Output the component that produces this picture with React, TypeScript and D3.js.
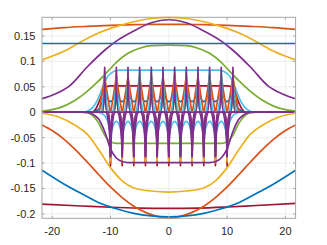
import React, { useEffect, useRef } from "react";
import * as d3 from "d3";

// axis limits and ticks
const xLimits = [-21.75, 21.75];
const yLimits = [-0.2087, 0.1868];
const xTicks = [-20, -10, 0, 10, 20];
const yTicks = [-0.2, -0.15, -0.1, -0.05, 0, 0.05, 0.1, 0.15];
const yTickLabels = ["-0.2", "-0.15", "-0.1", "-0.05", "0", "0.05", "0.1", "0.15"];

// smooth curves, [x, value]
const blueFlat = [[-21.75, 0.1352], [21.75, 0.1352]];
const orangeTop = [[-21.75, 0.163], [-18, 0.1665], [-14, 0.169], [-10, 0.171], [-6, 0.1723], [-3, 0.1728], [0, 0.173], [3, 0.1728], [6, 0.1723], [10, 0.171], [14, 0.169], [18, 0.1665], [21.75, 0.163]];
const yellowTop = [[-21.75, 0.103], [-18, 0.12], [-15.6, 0.135], [-13, 0.151], [-10, 0.165], [-8, 0.172], [-6, 0.178], [-3, 0.1845], [0, 0.1868], [3, 0.1845], [6, 0.178], [8, 0.172], [10, 0.165], [13, 0.151], [15.6, 0.135], [18, 0.12], [21.75, 0.103]];
const purpleTop = [[-21.75, 0.0266], [-19.5, 0.036], [-17, 0.052], [-14, 0.089], [-11, 0.122], [-9, 0.14], [-6, 0.16], [-3, 0.176], [0, 0.182], [3, 0.176], [6, 0.16], [9, 0.14], [11, 0.122], [14, 0.089], [17, 0.052], [19.5, 0.036], [21.75, 0.0266]];
const greenTop = [[-21.75, 0.002], [-20, 0.005], [-18, 0.012], [-16, 0.024], [-14, 0.041], [-12, 0.062], [-10, 0.086], [-9, 0.098], [-7, 0.116], [-5, 0.126], [-3, 0.131], [0, 0.1322], [3, 0.131], [5, 0.126], [7, 0.116], [9, 0.098], [10, 0.086], [12, 0.062], [14, 0.041], [16, 0.024], [18, 0.012], [20, 0.005], [21.75, 0.002]];
const cyanTop = [[-21.75, 0], [-15, 0], [-14, 0.002], [-13, 0.01], [-12.2, 0.025], [-11.3, 0.05], [-10.5, 0.07], [-9.5, 0.08], [-8.5, 0.083], [0, 0.083], [8.5, 0.083], [9.5, 0.08], [10.5, 0.07], [11.3, 0.05], [12.2, 0.025], [13, 0.01], [14, 0.002], [15, 0], [21.75, 0]];
const redTop = [[-21.75, 0], [-13.3, 0], [-12.5, 0.007], [-11.8, 0.025], [-11.3, 0.04], [-10.7, 0.05], [-10, 0.0518], [0, 0.0518], [10, 0.0518], [10.7, 0.05], [11.3, 0.04], [11.8, 0.025], [12.5, 0.007], [13.3, 0], [21.75, 0]];
const greenLow = [[-21.75, 0], [-15, 0], [-14, -0.001], [-13, -0.007], [-12, -0.022], [-11, -0.045], [-10, -0.058], [-9, -0.0613], [0, -0.0613], [9, -0.0613], [10, -0.058], [11, -0.045], [12, -0.022], [13, -0.007], [14, -0.001], [15, 0], [21.75, 0]];
const purpleLow = [[-21.75, 0], [-15, 0], [-14, -0.0005], [-13, -0.004], [-12, -0.014], [-11, -0.038], [-10, -0.072], [-9, -0.09], [-8, -0.097], [-7, -0.099], [0, -0.099], [7, -0.099], [8, -0.097], [9, -0.09], [10, -0.072], [11, -0.038], [12, -0.014], [13, -0.004], [14, -0.0005], [15, 0], [21.75, 0]];
const yellowLow = [[-21.75, -0.002], [-19, -0.009], [-16, -0.026], [-14, -0.043], [-12, -0.074], [-10, -0.109], [-8, -0.135], [-6, -0.149], [-3, -0.155], [0, -0.157], [3, -0.155], [6, -0.149], [8, -0.135], [10, -0.109], [12, -0.074], [14, -0.043], [16, -0.026], [19, -0.009], [21.75, -0.002]];
const orangeLow = [[-21.75, -0.025], [-20, -0.036], [-18, -0.053], [-16, -0.074], [-14, -0.098], [-12, -0.123], [-10, -0.147], [-8, -0.168], [-6, -0.185], [-4, -0.197], [-2, -0.205], [0, -0.2087], [2, -0.205], [4, -0.197], [6, -0.185], [8, -0.168], [10, -0.147], [12, -0.123], [14, -0.098], [16, -0.074], [18, -0.053], [20, -0.036], [21.75, -0.025]];
const blueLow = [[-21.75, -0.114], [-18, -0.141], [-15, -0.16], [-12, -0.178], [-9, -0.19], [-6, -0.199], [-3, -0.204], [0, -0.206], [3, -0.204], [6, -0.199], [9, -0.19], [12, -0.178], [15, -0.16], [18, -0.141], [21.75, -0.114]];
const redLow = [[-21.75, -0.181], [-15, -0.1845], [-10, -0.187], [-5, -0.1887], [0, -0.1893], [5, -0.1887], [10, -0.1865], [15, -0.1835], [21.75, -0.1795]];

// spiky part: wells (upward spikes) and barriers (downward spikes)
const wellCentres = [-11, -9, -7, -5, -3, -1, 1, 3, 5, 7, 9, 11];
const barrierCentres = [-10, -8, -6, -4, -2, 0, 2, 4, 6, 8, 10];
const upPeaks = { purple: 0.0885, green: 0.082, cyan: 0.076, orange: 0.07 };
const downPeaks = { red: -0.105, orange: -0.1, yellow: -0.096, purple: -0.088 };
const blueScallop = { high: 0.045, low: 0.021 };
const cyanArch = { low: -0.048, high: -0.018 };

const C = {
  blue: "#0072BD",
  orange: "#D95319",
  yellow: "#EDB120",
  purple: "#7E2F8E",
  green: "#77AC30",
  cyan: "#4DBEEE",
  red: "#A2142F",
};

const App = () => {
  const ref = useRef<SVGSVGElement>(null);

  useEffect(() => {
    const width = 327;
    const height = 245;
    const left = 42, right = 295.6, top = 17.3, bottom = 218.3;
    const lw = 1.7;

    const svg = d3.select(ref.current);
    svg.selectAll("*").remove();

    const x = d3.scaleLinear().domain(xLimits).range([left, right]);
    const y = d3.scaleLinear().domain(yLimits).range([bottom, top]);

    // grid
    const grid = svg.append("g").attr("stroke", "#e3e3e3").attr("stroke-width", 0.6);
    xTicks.forEach((t) => grid.append("line").attr("x1", x(t)).attr("x2", x(t)).attr("y1", top).attr("y2", bottom));
    yTicks.forEach((t) => grid.append("line").attr("x1", left).attr("x2", right).attr("y1", y(t)).attr("y2", y(t)));

    const plot = svg.append("g");
    plot.append("defs").append("clipPath").attr("id", "clip")
      .append("rect").attr("x", left).attr("y", top - 1).attr("width", right - left).attr("height", bottom - top + 2);
    const g = plot.append("g").attr("clip-path", "url(#clip)").attr("fill", "none").attr("stroke-width", lw).attr("stroke-linejoin", "round");

    const line = d3.line<number[]>().x((d) => x(d[0])).y((d) => y(d[1])).curve(d3.curveMonotoneX);
    const drawCurve = (data: number[][], color: string) => g.append("path").attr("d", line(data)).attr("stroke", color);

    // cusp shaped spike at c with peak p and half width w; k sets how concave the sides are
    const cusp = (c: number, p: number, w: number, k = 0.3) => {
      const y0 = y(0);
      return `L${x(c - w)},${y0} C${x(c - w * k)},${y0} ${x(c - w * 0.08)},${y(p * 0.4)} ${x(c)},${y(p)} C${x(c + w * 0.08)},${y(p * 0.4)} ${x(c + w * k)},${y0} ${x(c + w)},${y0}`;
    };
    const spikeTrain = (centres: number[], p: number, w: number, color: string, k = 0.3) => {
      const d = `M${x(xLimits[0])},${y(0)} ` + centres.map((c) => cusp(c, p, w, k)).join(" ") + ` L${x(xLimits[1])},${y(0)}`;
      g.append("path").attr("d", d).attr("stroke", color);
    };

    drawCurve(redLow, C.red);
    drawCurve(orangeTop, C.orange);
    drawCurve(yellowTop, C.yellow);
    drawCurve(purpleTop, C.purple);
    drawCurve(greenTop, C.green);
    drawCurve(yellowLow, C.yellow);
    drawCurve(orangeLow, C.orange);
    drawCurve(blueLow, C.blue);
    drawCurve(greenLow, C.green);
    drawCurve(cyanTop, C.cyan);
    drawCurve(redTop, C.red);

    // blue scallops between wells
    {
      let d = `M${x(-13.5)},${y(0)} C${x(-12)},${y(0)} ${x(-11.3)},${y(0.01)} ${x(-11)},${y(blueScallop.high)}`;
      for (let i = 0; i < wellCentres.length - 1; i++) {
        const a = wellCentres[i], b = wellCentres[i + 1];
        d += ` Q${x((a + b) / 2)},${y(2 * blueScallop.low - blueScallop.high)} ${x(b)},${y(blueScallop.high)}`;
      }
      d += ` C${x(11.3)},${y(0.01)} ${x(12)},${y(0)} ${x(13.5)},${y(0)}`;
      g.append("path").attr("d", d).attr("stroke", C.blue);
    }
    // cyan arches below zero between barriers
    {
      let d = `M${x(-12.5)},${y(0)} C${x(-11)},${y(0)} ${x(-10.3)},${y(-0.01)} ${x(-10)},${y(cyanArch.low)}`;
      for (let i = 0; i < barrierCentres.length - 1; i++) {
        const a = barrierCentres[i], b = barrierCentres[i + 1];
        d += ` Q${x((a + b) / 2)},${y(2 * cyanArch.high - cyanArch.low)} ${x(b)},${y(cyanArch.low)}`;
      }
      d += ` C${x(10.3)},${y(-0.01)} ${x(11)},${y(0)} ${x(12.5)},${y(0)}`;
      g.append("path").attr("d", d).attr("stroke", C.cyan);
    }
    // orange triangles on the wells
    {
      const pts: number[][] = [[xLimits[0], 0]];
      wellCentres.forEach((c) => {
        pts.push([c - 0.95, 0], [c, upPeaks.orange], [c + 0.95, 0]);
      });
      pts.push([xLimits[1], 0]);
      g.append("path").attr("d", d3.line<number[]>().x((d) => x(d[0])).y((d) => y(d[1]))(pts)).attr("stroke", C.orange);
    }
    spikeTrain(wellCentres, upPeaks.cyan, 0.8, C.cyan, 0.6);
    spikeTrain(wellCentres, upPeaks.cyan * 0.97, 0.6, C.cyan, 0.5);
    spikeTrain(wellCentres, upPeaks.cyan * 0.94, 0.4, C.cyan, 0.4);
    spikeTrain(wellCentres, upPeaks.green, 0.45, C.green);
    spikeTrain(barrierCentres, downPeaks.red, 0.4, C.red);
    spikeTrain(barrierCentres, downPeaks.orange, 0.45, C.orange);
    spikeTrain(barrierCentres, downPeaks.yellow, 0.5, C.yellow);
    spikeTrain(barrierCentres, downPeaks.purple, 0.85, C.purple, 0.55);
    spikeTrain(barrierCentres, downPeaks.purple * 0.98, 0.6, C.purple, 0.45);
    spikeTrain(barrierCentres, downPeaks.purple * 0.96, 0.4, C.purple, 0.4);
    spikeTrain(wellCentres, upPeaks.purple, 0.4, C.purple);
    drawCurve(purpleLow, C.purple);

    drawCurve(blueFlat, C.blue);

    // box and ticks
    const ax = svg.append("g").attr("stroke", "#a6a6a6").attr("stroke-width", 1).attr("fill", "none");
    ax.append("rect").attr("x", left).attr("y", top).attr("width", right - left).attr("height", bottom - top);
    const tl = 2.5;
    xTicks.forEach((t) => {
      ax.append("line").attr("x1", x(t)).attr("x2", x(t)).attr("y1", bottom).attr("y2", bottom - tl);
      ax.append("line").attr("x1", x(t)).attr("x2", x(t)).attr("y1", top).attr("y2", top + tl);
    });
    yTicks.forEach((t) => {
      ax.append("line").attr("x1", left).attr("x2", left + tl).attr("y1", y(t)).attr("y2", y(t));
      ax.append("line").attr("x1", right).attr("x2", right - tl).attr("y1", y(t)).attr("y2", y(t));
    });

    const lab = svg.append("g").attr("font-family", "'Liberation Sans', Arial, Helvetica, sans-serif").attr("font-size", 11).attr("fill", "#262626");
    xTicks.forEach((t) => lab.append("text").attr("x", x(t)).attr("y", 234.5).attr("text-anchor", "middle").text(String(t)));
    yTicks.forEach((t, i) => lab.append("text").attr("x", 35.5).attr("y", y(t)).attr("dy", "0.36em").attr("text-anchor", "end").text(yTickLabels[i]));

    svg.attr("width", width).attr("height", height);
  }, []);

  return <svg ref={ref} width={327} height={245} style={{ position: "absolute", left: 0, top: 0, background: "#fff" }} />;
};

export default App;
